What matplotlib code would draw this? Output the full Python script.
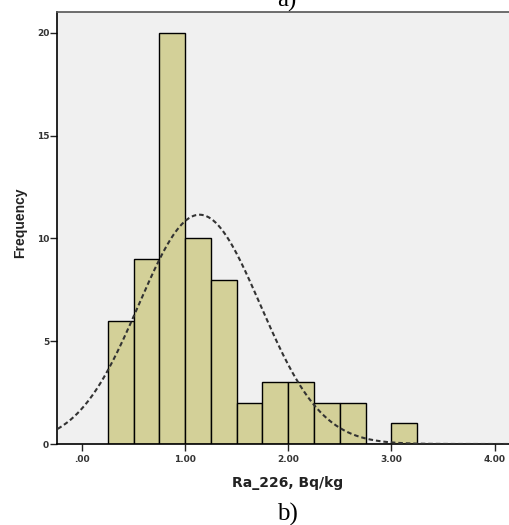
import numpy as np
import matplotlib
matplotlib.use("Agg")
import matplotlib.pyplot as plt

# Data
bin_edges = [0.25, 0.50, 0.75, 1.00, 1.25, 1.50, 1.75, 2.00, 2.25, 2.50, 2.75, 3.00, 3.25]
counts = [6, 9, 20, 10, 8, 2, 3, 3, 2, 2, 0, 1]
fit_mean = 1.14
fit_std = 0.59
x_ticks = [0, 1, 2, 3, 4]
x_tick_labels = [".00", "1.00", "2.00", "3.00", "4.00"]
y_ticks = [0, 5, 10, 15, 20]
y_tick_labels = ["0", "5", "10", "15", "20"]

fig = plt.figure(figsize=(5.10, 5.25), dpi=100)
ax = fig.add_axes([57.5 / 510, 1 - 444 / 525, 1 - 57.5 / 510 + 0.002, (444 - 12) / 525])
ax.set_facecolor("#F0F0F0")

lefts = bin_edges[:-1]
widths = np.diff(bin_edges)
ax.bar(lefts, counts, width=widths, align="edge", color="#D3D098",
       edgecolor="black", linewidth=1.0, zorder=2)

n = sum(counts)
bw = widths[0]
xs = np.linspace(-0.3, 4.3, 600)
ys = n * bw / (fit_std * np.sqrt(2 * np.pi)) * np.exp(-0.5 * ((xs - fit_mean) / fit_std) ** 2)
ax.plot(xs, ys, linestyle=(0, (2.2, 1.4)), color="#333333", linewidth=1.5, zorder=3)

ax.set_xlim(-0.237, 4.16)
ax.set_ylim(0, 21.02)
ax.set_xticks(x_ticks)
ax.set_xticklabels(x_tick_labels)
ax.set_yticks(y_ticks)
ax.set_yticklabels(y_tick_labels)
ax.tick_params(axis="both", direction="out", length=5, width=1, colors="#222222",
               labelsize=6.5)
ax.tick_params(axis="y", pad=1)
ax.tick_params(axis="x", pad=3)
for lab in ax.get_xticklabels() + ax.get_yticklabels():
    lab.set_fontfamily("DejaVu Sans")
    lab.set_fontweight("bold")
    lab.set_color("#333333")

for s in ["left", "bottom"]:
    ax.spines[s].set_color("black")
    ax.spines[s].set_linewidth(1.2)
ax.spines["top"].set_color("#555555")
ax.spines["top"].set_linewidth(1.2)
ax.spines["right"].set_visible(False)

ax.set_xlabel("Ra_226, Bq/kg", fontfamily="DejaVu Sans", fontweight="bold",
              fontsize=10, color="#222222")
ax.xaxis.set_label_coords((287 - 57.5) / (510 - 57.5), -(483 - 444) / 432, transform=ax.transAxes)
ax.xaxis.label.set_va("center")
ax.set_ylabel("Frequency", fontfamily="Liberation Sans", fontweight="bold",
              fontsize=10, color="#222222")
ax.yaxis.set_label_coords(-(57.5 - 20) / 452.5, (444 - 223) / 432, transform=ax.transAxes)
ax.yaxis.label.set_va("center")

fig.text(287 / 510, 1 - 7 / 525, "a)", fontfamily="Liberation Serif", fontsize=18,
         ha="center", va="baseline")
fig.text(287 / 510, 1 - 514 / 525, "b)", fontfamily="Liberation Serif", fontsize=18,
         ha="center", va="center")

fig.savefig("out.png", dpi=100)
